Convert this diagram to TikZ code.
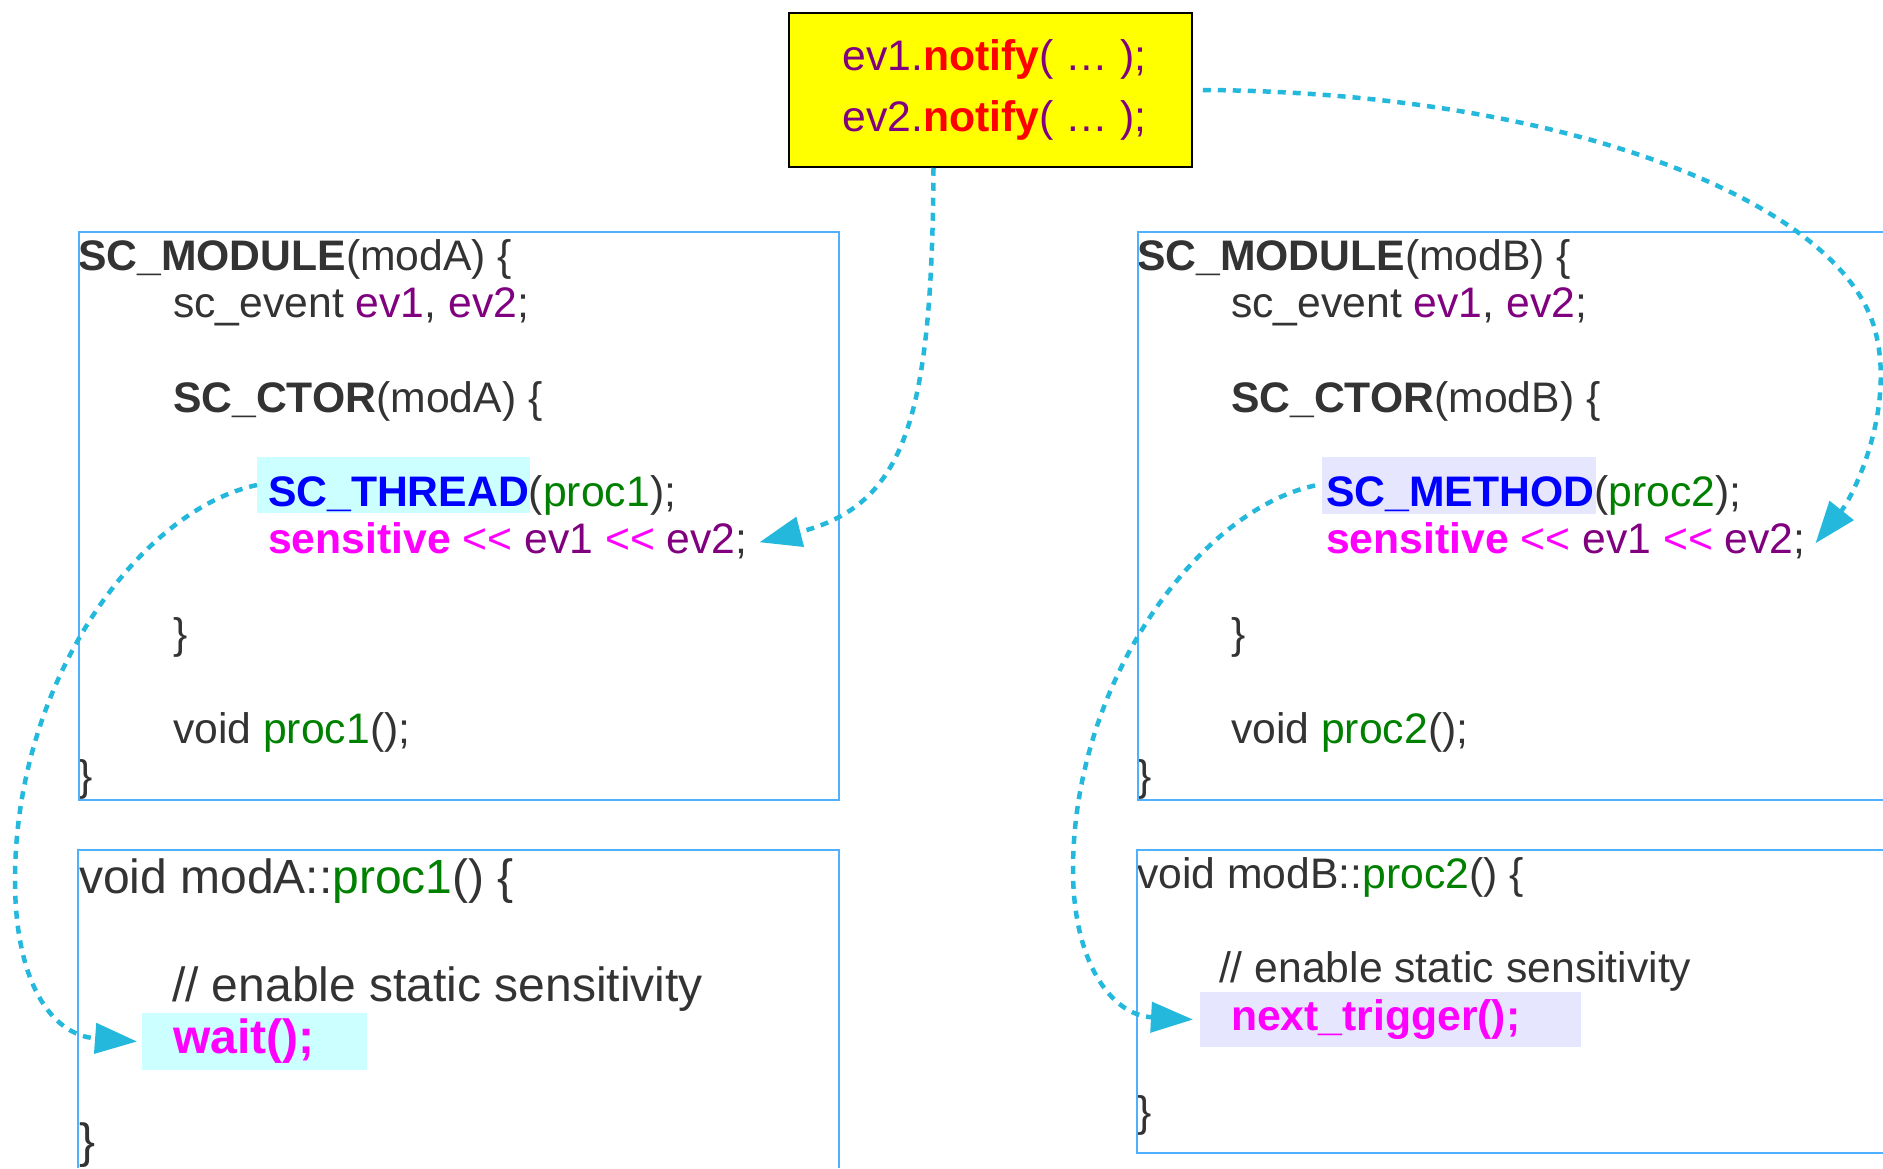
\documentclass[tikz,border=0pt]{standalone}
\usepackage{fontspec}
\setmainfont{Liberation Sans}
\usetikzlibrary{arrows.meta}
\definecolor{txtgray}{HTML}{333333}
\definecolor{evpurple}{HTML}{800080}
\definecolor{procgreen}{HTML}{008000}
\definecolor{kwblue}{HTML}{0000FF}
\definecolor{sensmag}{HTML}{FF00FF}
\definecolor{notifyred}{HTML}{FF0000}
\definecolor{yelfill}{HTML}{FFFF00}
\definecolor{hlcyan}{HTML}{CCFFFF}
\definecolor{hllav}{HTML}{E6E6FF}
\definecolor{conncol}{HTML}{23B8DC}
\definecolor{boxblue}{HTML}{4FB0FF}
\newcommand{\shl}{\textcolor{sensmag}{<\kern0pt<}}
\begin{document}
\begin{tikzpicture}[x=1pt,y=-1pt,
  txt/.style={inner sep=0pt, outer sep=0pt, anchor=base west, text=txtgray, font=\fontsize{42.7}{47}\selectfont},
  bigtxt/.style={txt, font=\fontsize{48}{54}\selectfont},
  frame/.style={draw=boxblue, line width=1.5pt},
  hl/.style={inner sep=0pt, outer sep=0pt, anchor=north west, draw=none},
  conn/.style={draw=conncol, line width=4.5pt, dash pattern=on 8pt off 7pt, -{Triangle[length=42pt,width=30pt]}},
]
\useasboundingbox (0,0) rectangle (1883,1168);

% highlights
\node[hl, fill=hlcyan, minimum width=273pt, minimum height=56pt] (thrHL) at (257,457) {};
\node[hl, fill=hlcyan, minimum width=225pt, minimum height=57pt] (waitHL) at (142,1013) {};
\node[hl, fill=hllav, minimum width=274pt, minimum height=57pt] (metHL) at (1322,457) {};
\node[hl, fill=hllav, minimum width=381pt, minimum height=55pt] (trgHL) at (1200,992) {};

% yellow notify box
\node[draw=black, line width=1.5pt, fill=yelfill, minimum width=403pt, minimum height=154pt,
      inner sep=0pt, align=center, text=evpurple, font=\fontsize{42.7}{61}\selectfont]
  (yel) at (990.5,90) {\hspace*{8pt}ev1.\textcolor{notifyred}{\bfseries notify}( … );\\\hspace*{8pt}ev2.\textcolor{notifyred}{\bfseries notify}( … );};

% module A
\node[txt] (mA1) at (78,270) {\textbf{SC\_MODULE}(modA) \{};
\node[txt] (mA2) at (173,317) {sc\_event \textcolor{evpurple}{ev1}, \textcolor{evpurple}{ev2};};
\node[txt] (mA3) at (173,412) {\textbf{SC\_CTOR}(modA) \{};
\node[txt] (mA4) at (268,506) {\textcolor{kwblue}{\bfseries SC\_THREAD}(\textcolor{procgreen}{proc1});};
\node[txt] (sensA) at (268,553) {\textcolor{sensmag}{\bfseries sensitive} \shl{} \textcolor{evpurple}{ev1} \shl{} \textcolor{evpurple}{ev2};};
\node[txt] (mA6) at (173,648) {\}};
\node[txt] (mA7) at (173,743) {void \textcolor{procgreen}{proc1}();};
\node[txt] (mA8) at (78,790) {\}};

% module B
\node[txt] (mB1) at (1137,270) {\textbf{SC\_MODULE}(modB) \{};
\node[txt] (mB2) at (1231,317) {sc\_event \textcolor{evpurple}{ev1}, \textcolor{evpurple}{ev2};};
\node[txt] (mB3) at (1231,412) {\textbf{SC\_CTOR}(modB) \{};
\node[txt] (mB4) at (1326,506) {\textcolor{kwblue}{\bfseries SC\_METHOD}(\textcolor{procgreen}{proc2});};
\node[txt] (sensB) at (1326,553) {\textcolor{sensmag}{\bfseries sensitive} \shl{} \textcolor{evpurple}{ev1} \shl{} \textcolor{evpurple}{ev2};};
\node[txt] (mB6) at (1231,648) {\}};
\node[txt] (mB7) at (1231,743) {void \textcolor{procgreen}{proc2}();};
\node[txt] (mB8) at (1137,790) {\}};

% proc1 body
\node[bigtxt] (bl1) at (79,893) {void modA::\textcolor{procgreen}{proc1}() \{};
\node[bigtxt] (bl2) at (172,1001) {// enable static sensitivity};
\node[bigtxt] (bl3) at (173,1053) {\textcolor{sensmag}{\bfseries wait();}};
\node[bigtxt] (bl4) at (79,1157) {\}};

% proc2 body
\node[txt] (br1) at (1137,888) {void modB::\textcolor{procgreen}{proc2}() \{};
\node[txt] (br2) at (1219,982) {// enable static sensitivity};
\node[txt] (br3) at (1231,1030) {\textcolor{sensmag}{\bfseries next\_trigger();}};
\node[txt] (br4) at (1137,1126) {\}};

% frames
\draw[frame] (79,232) rectangle (839,800);
\draw[frame] (1883,232) -| (1138,800) -- (1883,800);
\draw[frame] (78,1168) |- (839,850) -- (839,1168);
\draw[frame] (1883,850) -| (1137,1153) -- (1883,1153);

% connectors
\draw[conn] ([xshift=-57pt]yel.south) .. controls (932,420) and (905,505) .. ([xshift=12pt,yshift=-2pt]sensA.east);
\draw[conn] ([xshift=10pt]yel.east) .. controls (1560,92) and (1840,200) .. (1875,330)
            .. controls (1896,408) and (1854,495) .. ([xshift=10pt,yshift=-3pt]sensB.east);
\draw[conn] (thrHL.west) .. controls (140,510) and (15,680) .. (15,880)
            .. controls (15,980) and (50,1035) .. ([xshift=-5pt]waitHL.west);
\draw[conn] ([xshift=-7pt]metHL.west) .. controls (1200,510) and (1073,680) .. (1073,870)
            .. controls (1073,960) and (1110,1015) .. ([xshift=-7pt]trgHL.west);
\end{tikzpicture}
\end{document}
